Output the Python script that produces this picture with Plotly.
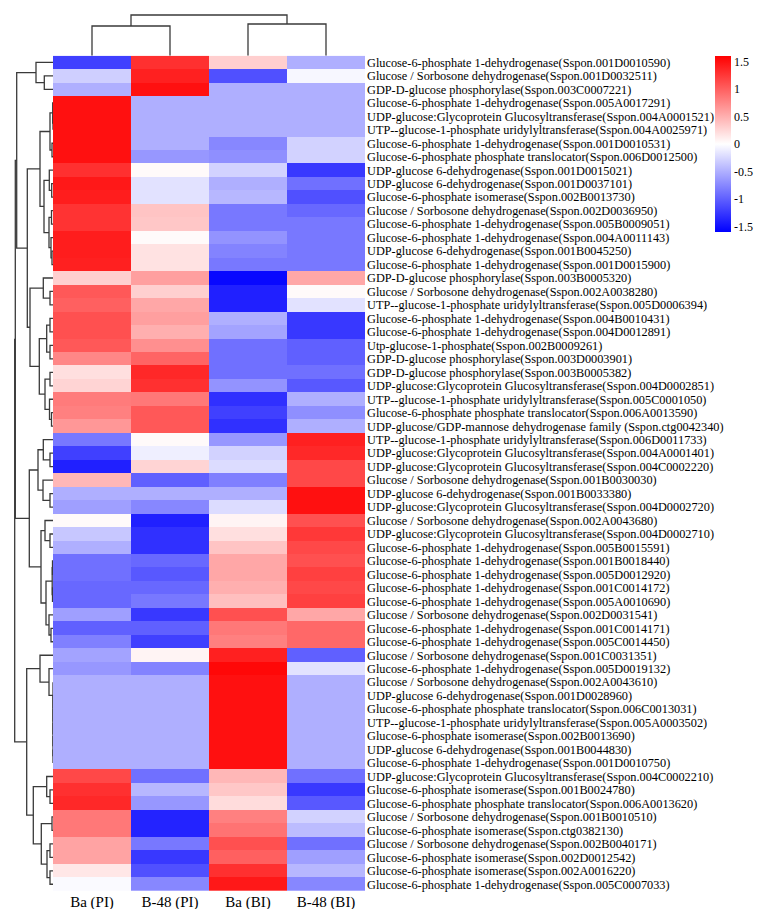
import plotly.graph_objects as go

# ---------------- data ----------------
samples = ["Ba (PI)", "B-48 (PI)", "Ba (BI)", "B-48 (BI)"]

genes = [
    "Glucose-6-phosphate 1-dehydrogenase(Sspon.001D0010590)",
    "Glucose / Sorbosone dehydrogenase(Sspon.001D0032511)",
    "GDP-D-glucose phosphorylase(Sspon.003C0007221)",
    "Glucose-6-phosphate 1-dehydrogenase(Sspon.005A0017291)",
    "UDP-glucose:Glycoprotein Glucosyltransferase(Sspon.004A0001521)",
    "UTP--glucose-1-phosphate uridylyltransferase(Sspon.004A0025971)",
    "Glucose-6-phosphate 1-dehydrogenase(Sspon.001D0010531)",
    "Glucose-6-phosphate phosphate translocator(Sspon.006D0012500)",
    "UDP-glucose 6-dehydrogenase(Sspon.001D0015021)",
    "UDP-glucose 6-dehydrogenase(Sspon.001D0037101)",
    "Glucose-6-phosphate isomerase(Sspon.002B0013730)",
    "Glucose / Sorbosone dehydrogenase(Sspon.002D0036950)",
    "Glucose-6-phosphate 1-dehydrogenase(Sspon.005B0009051)",
    "Glucose-6-phosphate 1-dehydrogenase(Sspon.004A0011143)",
    "UDP-glucose 6-dehydrogenase(Sspon.001B0045250)",
    "Glucose-6-phosphate 1-dehydrogenase(Sspon.001D0015900)",
    "GDP-D-glucose phosphorylase(Sspon.003B0005320)",
    "Glucose / Sorbosone dehydrogenase(Sspon.002A0038280)",
    "UTP--glucose-1-phosphate uridylyltransferase(Sspon.005D0006394)",
    "Glucose-6-phosphate 1-dehydrogenase(Sspon.004B0010431)",
    "Glucose-6-phosphate 1-dehydrogenase(Sspon.004D0012891)",
    "Utp-glucose-1-phosphate(Sspon.002B0009261)",
    "GDP-D-glucose phosphorylase(Sspon.003D0003901)",
    "GDP-D-glucose phosphorylase(Sspon.003B0005382)",
    "UDP-glucose:Glycoprotein Glucosyltransferase(Sspon.004D0002851)",
    "UTP--glucose-1-phosphate uridylyltransferase(Sspon.005C0001050)",
    "Glucose-6-phosphate phosphate translocator(Sspon.006A0013590)",
    "UDP-glucose/GDP-mannose dehydrogenase family (Sspon.ctg0042340)",
    "UTP--glucose-1-phosphate uridylyltransferase(Sspon.006D0011733)",
    "UDP-glucose:Glycoprotein Glucosyltransferase(Sspon.004A0001401)",
    "UDP-glucose:Glycoprotein Glucosyltransferase(Sspon.004C0002220)",
    "Glucose / Sorbosone dehydrogenase(Sspon.001B0030030)",
    "UDP-glucose 6-dehydrogenase(Sspon.001B0033380)",
    "UDP-glucose:Glycoprotein Glucosyltransferase(Sspon.004D0002720)",
    "Glucose / Sorbosone dehydrogenase(Sspon.002A0043680)",
    "UDP-glucose:Glycoprotein Glucosyltransferase(Sspon.004D0002710)",
    "Glucose-6-phosphate 1-dehydrogenase(Sspon.005B0015591)",
    "Glucose-6-phosphate 1-dehydrogenase(Sspon.001B0018440)",
    "Glucose-6-phosphate 1-dehydrogenase(Sspon.005D0012920)",
    "Glucose-6-phosphate 1-dehydrogenase(Sspon.001C0014172)",
    "Glucose-6-phosphate 1-dehydrogenase(Sspon.005A0010690)",
    "Glucose / Sorbosone dehydrogenase(Sspon.002D0031541)",
    "Glucose-6-phosphate 1-dehydrogenase(Sspon.001C0014171)",
    "Glucose-6-phosphate 1-dehydrogenase(Sspon.005C0014450)",
    "Glucose / Sorbosone dehydrogenase(Sspon.001C0031351)",
    "Glucose-6-phosphate 1-dehydrogenase(Sspon.005D0019132)",
    "Glucose / Sorbosone dehydrogenase(Sspon.002A0043610)",
    "UDP-glucose 6-dehydrogenase(Sspon.001D0028960)",
    "Glucose-6-phosphate phosphate translocator(Sspon.006C0013031)",
    "UTP--glucose-1-phosphate uridylyltransferase(Sspon.005A0003502)",
    "Glucose-6-phosphate isomerase(Sspon.002B0013690)",
    "UDP-glucose 6-dehydrogenase(Sspon.001B0044830)",
    "Glucose-6-phosphate 1-dehydrogenase(Sspon.001D0010750)",
    "UDP-glucose:Glycoprotein Glucosyltransferase(Sspon.004C0002210)",
    "Glucose-6-phosphate isomerase(Sspon.001B0024780)",
    "Glucose-6-phosphate phosphate translocator(Sspon.006A0013620)",
    "Glucose / Sorbosone dehydrogenase(Sspon.001B0010510)",
    "Glucose-6-phosphate isomerase(Sspon.ctg0382130)",
    "Glucose / Sorbosone dehydrogenase(Sspon.002B0040171)",
    "Glucose-6-phosphate isomerase(Sspon.002D0012542)",
    "Glucose-6-phosphate isomerase(Sspon.002A0016220)",
    "Glucose-6-phosphate 1-dehydrogenase(Sspon.005C0007033)",
]

# row-scaled expression, columns: Ba(PI), B-48(PI), Ba(BI), B-48(BI)
ba_pi = [-1.2, -0.3, -0.5, 1.5, 1.5, 1.5, 1.5, 1.5, 1.3, 1.45, 1.42, 1.28, 1.28, 1.42, 1.42, 1.4,
         0.3, 1.05, 1.0, 1.1, 1.1, 1.05, 0.75, 0.2, 0.27, 0.83, 0.8, 0.65,
         -0.85, -1.2, -1.4, 0.45, -0.5, -0.6, 0.03, -0.35, -0.5, -0.9, -0.9, -0.95, -0.95, -0.6, -1.0, -0.8,
         -0.58, -0.65, -0.5, -0.5, -0.5, -0.5, -0.5, -0.5, -0.5,
         1.15, 1.3, 1.35, 0.85, 0.85, 0.58, 0.58, 0.15, -0.03]
b48_pi = [1.3, 1.4, 1.5, -0.5, -0.5, -0.5, -0.5, -0.65, 0.03, -0.18, -0.18, 0.37, 0.35, 0.03, 0.18, 0.18,
          0.6, 0.3, 0.55, 0.6, 0.5, 0.7, 0.97, 1.35, 1.3, 0.85, 1.05, 1.05,
          0.03, -0.1, 0.27, -1.0, -0.5, -0.75, -1.4, -1.3, -1.3, -0.95, -1.05, -0.95, -0.85, -1.25, -1.0, -1.2,
          0.07, -0.78, -0.5, -0.5, -0.5, -0.5, -0.5, -0.5, -0.5,
          -0.9, -0.45, -0.65, -1.38, -1.38, -0.85, -1.25, -1.1, -0.75]
ba_bi = [0.3, -1.1, -0.5, -0.5, -0.5, -0.5, -0.75, -0.7, -0.28, -0.5, -0.45, -0.85, -0.85, -0.68, -0.78, -0.85,
         -1.55, -1.4, -1.4, -0.5, -0.58, -0.9, -0.9, -0.9, -0.68, -1.3, -1.2, -1.3,
         -0.65, -0.28, -0.22, -0.8, -0.5, -0.22, 0.07, 0.2, 0.37, 0.55, 0.55, 0.5, 0.4, 1.1, 0.85, 0.8,
         1.4, 1.55, 1.5, 1.5, 1.5, 1.5, 1.5, 1.5, 1.5,
         0.45, 0.35, 0.22, 0.8, 0.88, 1.1, 1.0, 1.3, 1.45]
b48_bi = [-0.5, -0.05, -0.5, -0.5, -0.5, -0.5, -0.28, -0.28, -1.25, -0.9, -1.1, -0.95, -0.85, -0.85, -0.85, -0.85,
          0.55, 0.03, -0.18, -1.25, -1.25, -1.0, -1.0, -0.9, -1.05, -0.5, -0.7, -0.5,
          1.4, 1.35, 1.15, 1.15, 1.5, 1.5, 1.1, 1.25, 1.15, 1.1, 1.2, 1.15, 1.2, 0.55, 0.95, 0.95,
          -1.0, -0.18, -0.5, -0.5, -0.5, -0.5, -0.5, -0.5, -0.5,
          -0.9, -1.25, -1.05, -0.28, -0.42, -0.9, -0.6, -0.45, -0.75]

# cluster trees: (merge height, left, right); leaves are row / column indices
block_e = (0, 46, (0, 47, (0, 48, (0, 49, (0, 50, (0, 51, 52))))))
row_tree = (38.3,
            (37.7,
             (36.3,
              (17, 0, (8.7, 1, 2)),
              (25.7,
               (13,
                (3, (0.3, 3, (0, 4, 5)), (1, 6, 7)),
                (9, (3.7, 8, (1.3, 9, 10)), (4, (1.5, 11, 12), (2, 13, (1, 14, 15))))),
               (23,
                (9.7, 16, (3, 17, 18)),
                (13.7,
                 (6.3, (3, 19, 20), (3, 21, 22)),
                 (8, (3, 23, 24), (3.5, 25, (1.5, 26, 27))))))),
             (23.7,
              (15, (9.7, 28, (3, 29, 30)), (10, 31, (3, 32, 33))),
              (12,
               (8, 34, (3, 35, 36)),
               (7, (0.8, (0.5, 37, 38), (0.5, 39, 40)), (4, 41, (2, 42, 43)))))),
            (26.3,
             (13, 44, (4, 45, block_e)),
             (19.7,
              (6.3, 53, (3, 54, 55)),
              (11.7, (1, 56, 57), (6, (3, 58, 59), (3, 60, 61))))))
col_tree = (40.7, (29.7, 0, 1), (31.7, 2, 3))


def tree_lines(node):
    """return (position, height, xs, ys) of a dendrogram in (pos, height) space"""
    if isinstance(node, int):
        return float(node), 0.0, [], []
    h, left, right = node
    p1, h1, a1, b1 = tree_lines(left)
    p2, h2, a2, b2 = tree_lines(right)
    pos = a1 + a2 + [p1, p1, p2, p2, None]
    hei = b1 + b2 + [h1, h, h, h2, None]
    return (p1 + p2) / 2, h, pos, hei


z = [list(r) for r in zip(ba_pi, b48_pi, ba_bi, b48_bi)]
rows = list(range(len(genes)))
cols = list(range(len(samples)))

# page body has an 8px margin: lay the figure out in page pixels minus that offset
OFF = 8
W, H = 766 - 2 * OFF, 917 - 2 * OFF


def fx(px):
    return (px - OFF) / W


def fy(py):
    return 1 - (py - OFF) / H


hm_l, hm_r, hm_t, hm_b = 53, 365, 55.7, 891
dend_top = 14

fig = go.Figure()
fig.add_trace(go.Heatmap(
    z=z, x=cols, y=rows,
    colorscale=[[0, "#0000FF"], [0.5, "#FFFFFF"], [1, "#FF0000"]],
    zmin=-1.6, zmax=1.6,
    colorbar=dict(
        x=fx(715), xanchor="left", y=fy(56), yanchor="top",
        len=176, lenmode="pixels", thickness=16, thicknessmode="pixels",
        outlinewidth=0, ticks="", tickvals=[-1.5, -1, -0.5, 0, 0.5, 1, 1.5],
        ticktext=["-1.5", "-1", "-0.5", "0", "0.5", "1", "1.5"],
        tickfont=dict(family="Liberation Serif", size=12, color="#000"),
        ypad=0, xpad=0,
    ),
    hoverinfo="skip",
))

_, _, rp, rh = tree_lines(row_tree)
fig.add_trace(go.Scatter(x=rh, y=rp, mode="lines", xaxis="x2", yaxis="y2",
                         line=dict(color="#3a3a3a", width=1.3), hoverinfo="skip", showlegend=False))
_, _, cp, ch = tree_lines(col_tree)
fig.add_trace(go.Scatter(x=cp, y=ch, mode="lines", xaxis="x3", yaxis="y3",
                         line=dict(color="#3a3a3a", width=1.3), hoverinfo="skip", showlegend=False))

font = "Liberation Serif"
fig.update_layout(
    width=W, height=H, margin=dict(l=0, r=0, t=0, b=0, autoexpand=False),
    paper_bgcolor="white", plot_bgcolor="white", showlegend=False,
    xaxis=dict(domain=[fx(hm_l), fx(hm_r)], range=[-0.5, 3.5], tickvals=cols, ticktext=samples,
               tickfont=dict(family=font, size=15, color="#000"), showgrid=False, zeroline=False,
               ticks="", showline=False, anchor="y", automargin=False),
    yaxis=dict(domain=[fy(hm_b), fy(hm_t)], range=[len(genes) - 0.5, -0.5], tickvals=rows,
               ticktext=genes, side="right", tickfont=dict(family=font, size=12.3, color="#000"),
               showgrid=False, zeroline=False, ticks="", showline=False, anchor="x",
               ticklabelstandoff=1, automargin=False),
    xaxis2=dict(domain=[fx(OFF), fx(hm_l)], range=[hm_l - OFF, 0], visible=False, anchor="y2"),
    yaxis2=dict(domain=[fy(hm_b), fy(hm_t)], range=[len(genes) - 0.5, -0.5], visible=False,
                anchor="x2"),
    xaxis3=dict(domain=[fx(hm_l), fx(hm_r)], range=[-0.5, 3.5], visible=False, anchor="y3"),
    yaxis3=dict(domain=[fy(hm_t), fy(dend_top)], range=[0, hm_t - dend_top], visible=False, anchor="x3"),
)

fig.write_html("out.html")
